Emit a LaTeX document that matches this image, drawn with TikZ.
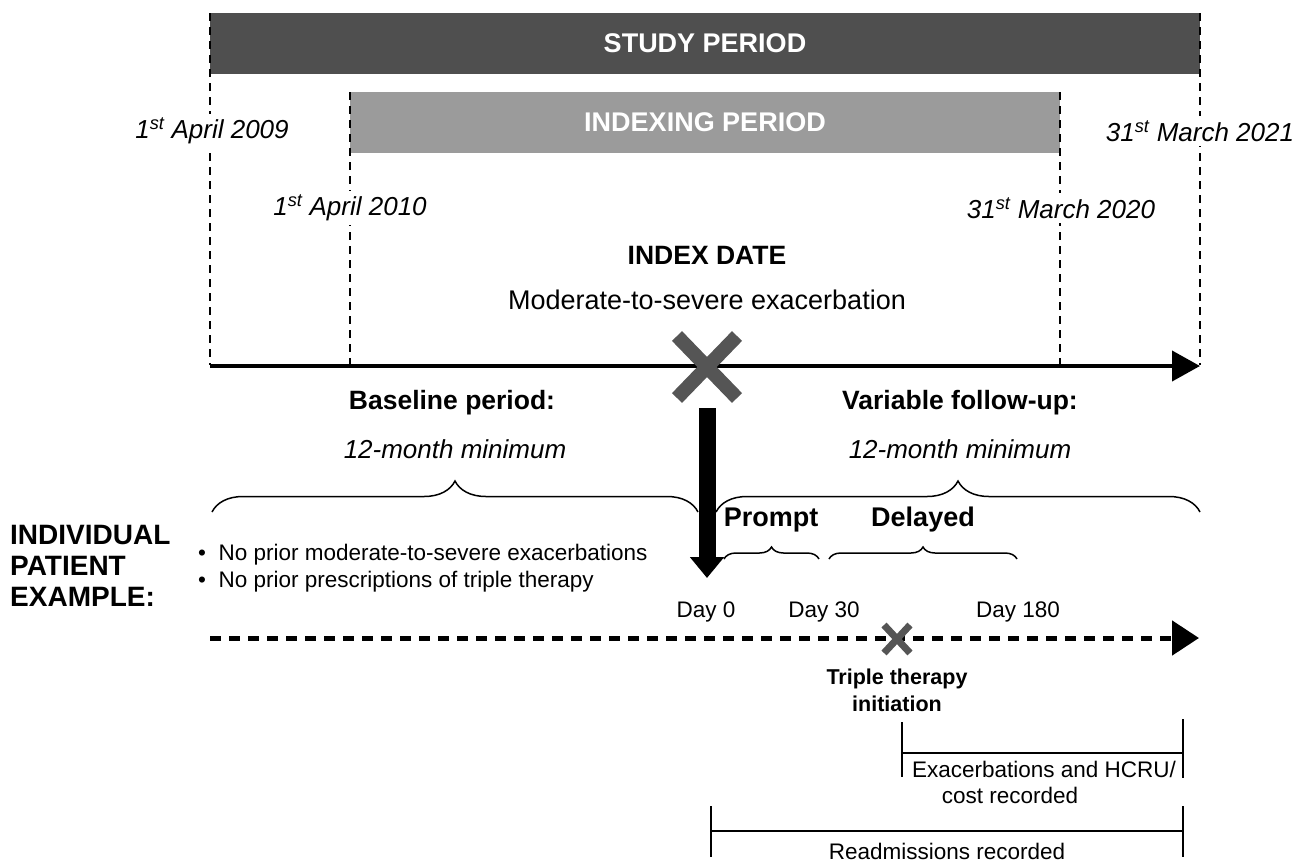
\documentclass[tikz,border=0pt]{standalone}
\usepackage{fontspec}
\setmainfont{Liberation Sans}
\usetikzlibrary{arrows.meta,decorations.pathreplacing,calc}
\definecolor{bardark}{HTML}{4F4F4F}
\definecolor{barlight}{HTML}{9B9B9B}
\definecolor{xgray}{HTML}{555555}
\begin{document}
\begin{tikzpicture}[x=1pt,y=-1pt,
  lg/.style={font=\fontsize{27}{31}\selectfont, inner sep=0pt},
  lgb/.style={font=\fontsize{26.5}{31}\selectfont\bfseries, inner sep=0pt},
  lgi/.style={font=\fontsize{26}{30}\selectfont\itshape, inner sep=0pt},
  datelbl/.style={font=\fontsize{26}{30}\selectfont\itshape, fill=white, inner sep=4pt},
  sm/.style={font=\fontsize{22.5}{27}\selectfont, inner sep=0pt},
  smb/.style={font=\fontsize{21.5}{27}\selectfont\bfseries, inner sep=0pt},
  bartext/.style={font=\fontsize{27}{31}\selectfont\bfseries, text=white, inner sep=0pt},
  vdash/.style={line width=1.8pt, dash pattern=on 8pt off 6pt},
  bigbrace/.style={line width=1.5pt, decorate, decoration={brace, amplitude=31pt}},
  smallbrace/.style={line width=1.5pt, decorate, decoration={brace, amplitude=12pt}},
  bracket/.style={line width=1.2pt},
  xmark/.style={draw=xgray, line width=14pt},
  xsmall/.style={draw=xgray, line width=7pt}
]
\useasboundingbox (0,0) rectangle (1297,865);

% bars
\fill[bardark] (210,13) rectangle (1200,74);
\node[bartext] (study) at (705,43) {STUDY PERIOD};
\fill[barlight] (350,92) rectangle (1060,153);
\node[bartext] (indexing) at (705,122) {INDEXING PERIOD};

% dashed verticals
\coordinate (s1) at (210,13);  \coordinate (s1b) at (210,365);
\coordinate (s2) at (1200,13); \coordinate (s2b) at (1200,365);
\coordinate (i1) at (350,92);  \coordinate (i1b) at (350,365);
\coordinate (i2) at (1060,92); \coordinate (i2b) at (1060,365);
\draw[vdash] (s1) -- (s1b);
\draw[vdash] (s2) -- (s2b);
\draw[vdash] (i1) -- (i1b);
\draw[vdash] (i2) -- (i2b);

% date labels
\node[datelbl] (d2009) at (212,131) {1\textsuperscript{st} April 2009};
\node[datelbl] (d2021) at (1200,131) {31\textsuperscript{st} March 2021};
\node[datelbl] (d2010) at (350,208) {1\textsuperscript{st} April 2010};
\node[datelbl] (d2020) at (1061,208) {31\textsuperscript{st} March 2020};

\node[lgb] (indexdate) at (707,255) {INDEX DATE};
\node[lg] (modsev) at (707,300) {Moderate-to-severe exacerbation};

% main timeline
\coordinate (tl0) at (210,366);
\coordinate (tl1) at (1200,366);
\draw[line width=4pt, -{Triangle[length=28pt,width=30pt]}] (tl0) -- (tl1);

% big X
\coordinate (bx) at (707,367);
\draw[xmark] ($(bx)+(-30,-31)$) -- ($(bx)+(30,31)$);
\draw[xmark] ($(bx)+(-30,31)$) -- ($(bx)+(30,-31)$);

% period labels
\node[lgb] (baseline) at (452,403) {Baseline period:};
\node[lgi] (bmin) at (455,449) {12-month minimum};
\node[lgb] (follow) at (960,403) {Variable follow-up:};
\node[lgi] (fmin) at (960,449) {12-month minimum};

% big braces
\coordinate (bl1) at (212,512); \coordinate (bl2) at (698,512);
\coordinate (br1) at (716,512); \coordinate (br2) at (1200,512);
\draw[bigbrace] (bl1) -- (bl2);
\draw[bigbrace] (br1) -- (br2);

% thick down arrow
\coordinate (da0) at (707,408);
\coordinate (da1) at (707,578);
\draw[line width=17pt, -{Triangle[length=21pt,width=33pt]}] (da0) -- (da1);

% individual patient
\node[anchor=west, align=left, inner sep=0pt, font=\fontsize{28}{31}\selectfont\bfseries] (indiv) at (10,566) {INDIVIDUAL\\PATIENT\\EXAMPLE:};
\node[sm, anchor=west] (bul1) at (198,555) {\textbullet\ \ No prior moderate-to-severe exacerbations};
\node[sm, anchor=west] (bul2) at (198,582) {\textbullet\ \ No prior prescriptions of triple therapy};

% prompt / delayed
\node[lgb, font=\fontsize{27}{31}\selectfont\bfseries] (prompt) at (771,520) {Prompt};
\node[lgb, font=\fontsize{27}{31}\selectfont\bfseries] (delayed) at (923,520) {Delayed};
\coordinate (pb1) at (724,559); \coordinate (pb2) at (819,559);
\coordinate (db1) at (829,559); \coordinate (db2) at (1017,559);
\draw[smallbrace] (pb1) -- (pb2);
\draw[smallbrace] (db1) -- (db2);

% days
\node[sm] (day0) at (706,612) {Day 0};
\node[sm] (day30) at (824,612) {Day 30};
\node[sm] (day180) at (1018,612) {Day 180};

% patient timeline
\coordinate (pt0) at (210,638);
\coordinate (pt1) at (1199,638);
\draw[line width=5pt, dash pattern=on 11pt off 8pt, -{Triangle[length=27pt,width=34pt]}] (pt0) -- (pt1);

% small X
\coordinate (sx) at (897,639);
\draw[xsmall] ($(sx)+(-13,-14)$) -- ($(sx)+(13,14)$);
\draw[xsmall] ($(sx)+(-13,14)$) -- ($(sx)+(13,-14)$);
\node[smb, align=center, font=\fontsize{21.5}{27}\selectfont\bfseries] (triple) at (897,690) {Triple therapy\\initiation};

% brackets
\coordinate (e1t) at (902,722); \coordinate (e1b) at (902,777);
\coordinate (e2t) at (1183,719); \coordinate (e2b) at (1183,778);
\coordinate (e1m) at (902,753); \coordinate (e2m) at (1183,753);
\draw[bracket] (e1t) -- (e1b);
\draw[bracket] (e2t) -- (e2b);
\draw[bracket] (e1m) -- (e2m);
\node[sm] (exac1) at (1044,769) {Exacerbations and HCRU/};
\node[sm] (exac2) at (1010,795) {cost recorded};

\coordinate (r1t) at (711,806); \coordinate (r1b) at (711,857);
\coordinate (r2t) at (1183,806); \coordinate (r2b) at (1183,857);
\coordinate (r1m) at (711,831); \coordinate (r2m) at (1183,831);
\draw[bracket] (r1t) -- (r1b);
\draw[bracket] (r2t) -- (r2b);
\draw[bracket] (r1m) -- (r2m);
\node[sm] (readm) at (947,851) {Readmissions recorded};
\end{tikzpicture}
\end{document}
